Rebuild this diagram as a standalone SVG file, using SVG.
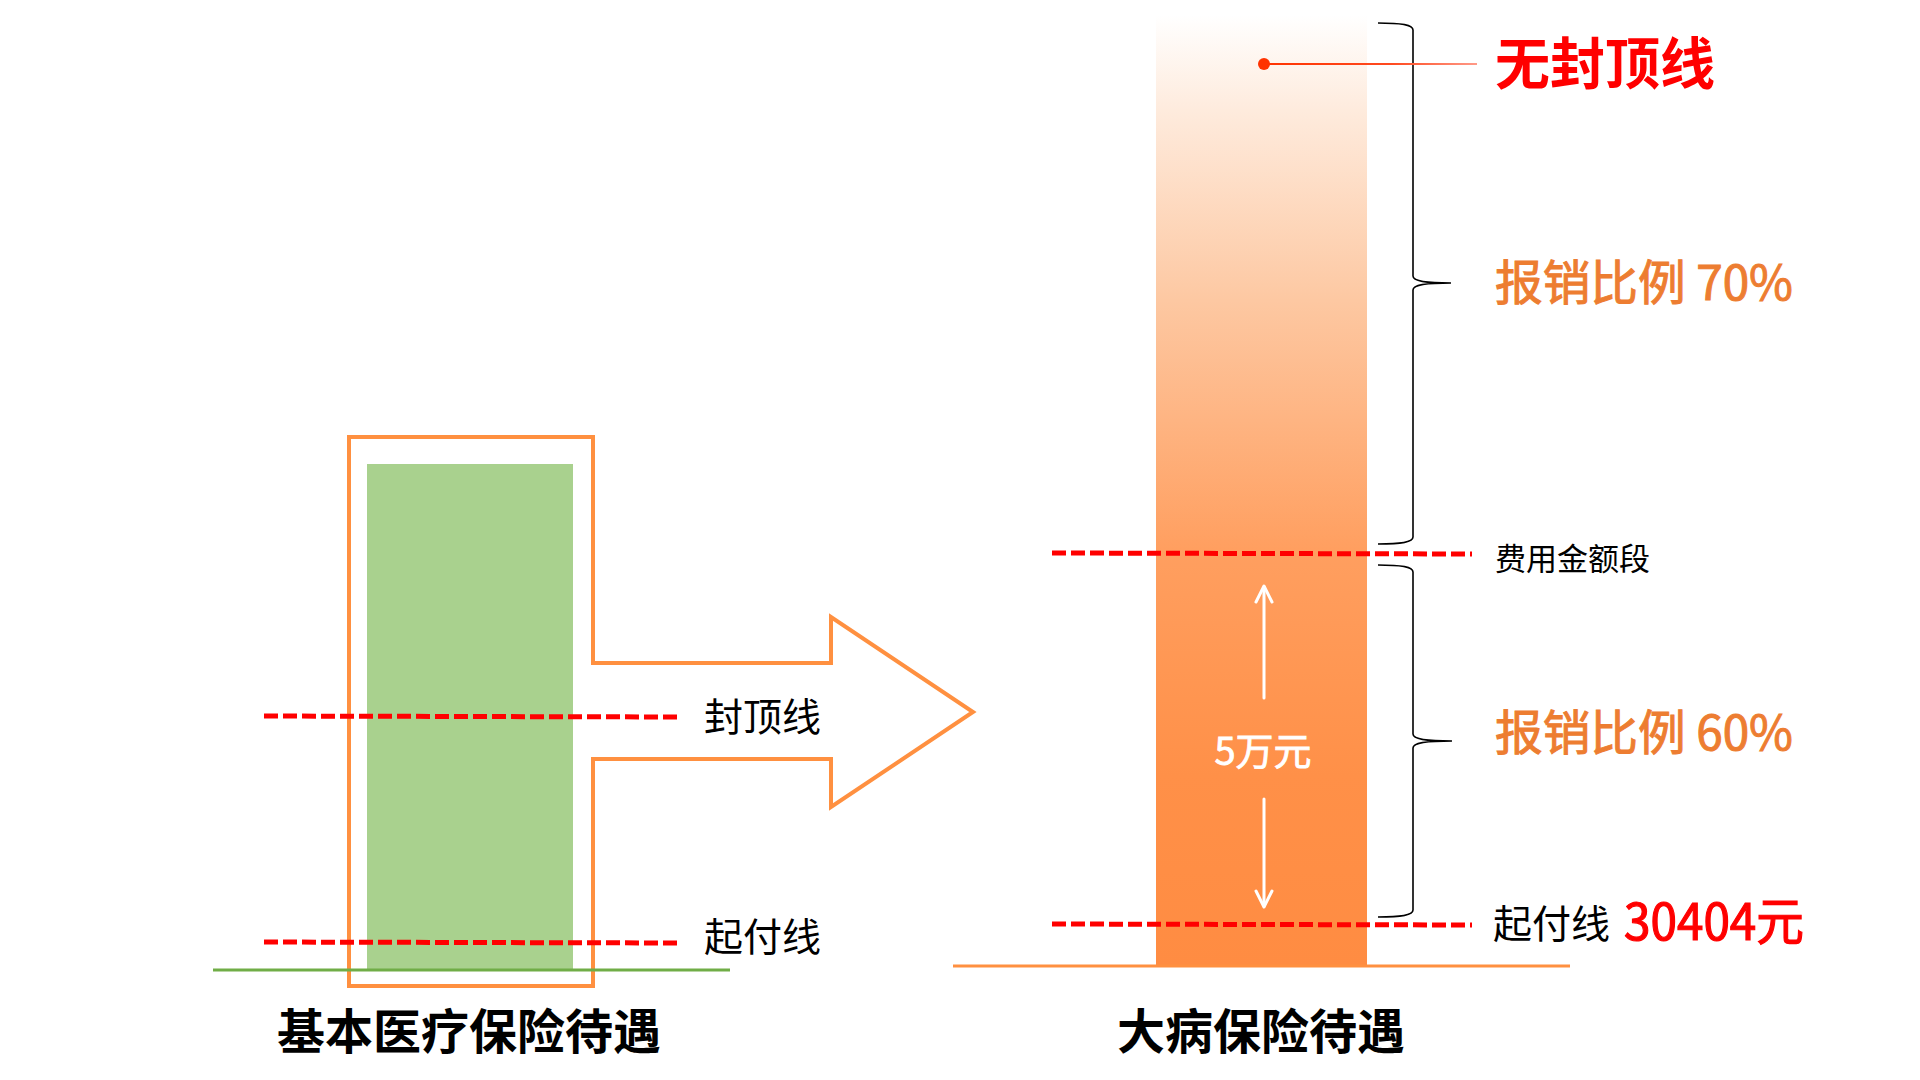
<svg xmlns="http://www.w3.org/2000/svg" width="1920" height="1080" viewBox="0 0 1920 1080">
  <style>
    text { font-family: "Noto Sans CJK SC", "Liberation Sans", sans-serif; }
    .dash { stroke: #FF0000; stroke-width: 5; stroke-dasharray: 14 5; fill: none; }
    .lbl { fill: #000000; font-size: 39px; }
    .title { fill: #000000; font-size: 48px; font-weight: bold; text-anchor: middle; }
    .rate { fill: #ED7D31; stroke: #ED7D31; stroke-width: 1; font-size: 48px; }
    .brace { fill: none; stroke: #000000; stroke-width: 1.6; }
    .white { stroke: #FFFFFF; stroke-width: 3; fill: none; stroke-linecap: round; stroke-linejoin: round; }
  </style>
  <defs>
    <linearGradient id="barGrad" x1="0" y1="15" x2="0" y2="966" gradientUnits="userSpaceOnUse">
      <stop offset="0" stop-color="#FFFFFF"/>
      <stop offset="0.1" stop-color="#FEEBDD"/>
      <stop offset="0.3" stop-color="#FDC8A2"/>
      <stop offset="0.56" stop-color="#FF9F60"/>
      <stop offset="0.8" stop-color="#FF9048"/>
      <stop offset="1" stop-color="#FF8C42"/>
    </linearGradient>
    <linearGradient id="leadGrad" x1="1264" y1="0" x2="1477" y2="0" gradientUnits="userSpaceOnUse">
      <stop offset="0" stop-color="#FF3300"/>
      <stop offset="0.6" stop-color="#FF4A20"/>
      <stop offset="1" stop-color="#FF9A88"/>
    </linearGradient>
  </defs>
  <rect width="1920" height="1080" fill="#FFFFFF"/>

  <!-- Left: basic medical insurance -->
  <g id="basic-bar">
    <rect x="367" y="464" width="206" height="506" fill="#A9D18E"/>
  </g>
  <g id="basic-arrow">
    <path d="M349,437 L593,437 L593,663 L831,663 L831,617 L973,712 L831,807 L831,759 L593,759 L593,986 L349,986 Z" fill="none" stroke="#FF9040" stroke-width="4"/>
  </g>
  <g id="basic-baseline">
    <line x1="213" y1="970" x2="730" y2="970" stroke="#70AD47" stroke-width="3"/>
  </g>
  <g id="basic-cap">
    <line class="dash" x1="264" y1="716" x2="680" y2="717"/>
    <text class="lbl" x="704" y="731">封顶线</text>
  </g>
  <g id="basic-deductible">
    <line class="dash" x1="264" y1="942" x2="680" y2="943"/>
    <text class="lbl" x="704" y="951">起付线</text>
  </g>
  <g id="basic-title">
    <text class="title" x="469" y="1049">基本医疗保险待遇</text>
  </g>

  <!-- Right: critical illness insurance -->
  <g id="serious-bar">
    <rect x="1156" y="15" width="211" height="951" fill="url(#barGrad)"/>
  </g>
  <g id="serious-baseline">
    <line x1="953" y1="966" x2="1570" y2="966" stroke="#FF9040" stroke-width="3"/>
  </g>
  <g id="segment-line">
    <line class="dash" x1="1052" y1="553" x2="1472" y2="554"/>
    <text x="1495" y="570" fill="#000000" font-size="31">费用金额段</text>
  </g>
  <g id="deductible-line">
    <line class="dash" x1="1052" y1="924" x2="1472" y2="925"/>
    <text class="lbl" x="1493" y="938">起付线</text>
    <text x="1624" y="940" fill="#FF0000" stroke="#FF0000" stroke-width="1.2" font-size="51" textLength="180" lengthAdjust="spacingAndGlyphs">30404元</text>
  </g>
  <g id="no-cap">
    <circle cx="1264" cy="64" r="6" fill="#FF3300"/>
    <text x="1495" y="84" fill="#FF0000" font-size="56" font-weight="bold" textLength="220" lengthAdjust="spacingAndGlyphs">无封顶线</text>
  </g>
  <g id="upper-brace">
    <path class="brace" d="M1378,23 C1402,23 1413,25 1413,30 L1413,276 C1413,281 1425,283 1451,283 C1425,283 1413,285 1413,290 L1413,537 C1413,542 1402,544 1378,544"/>
    <text class="rate" x="1495" y="300" textLength="298" lengthAdjust="spacingAndGlyphs">报销比例 70%</text>
  </g>
  <g id="lower-brace">
    <path class="brace" d="M1378,565 C1402,565 1413,567 1413,572 L1413,734 C1413,739 1425,741 1452,741 C1425,741 1413,743 1413,748 L1413,910 C1413,915 1402,917 1378,917"/>
    <text class="rate" x="1495" y="750" textLength="298" lengthAdjust="spacingAndGlyphs">报销比例 60%</text>
  </g>
  <g id="amount-label">
    <text x="1263" y="765" fill="#FFFFFF" stroke="#FFFFFF" stroke-width="0.8" font-size="38" text-anchor="middle">5万元</text>
  </g>
  <g id="serious-title">
    <text class="title" x="1261" y="1049">大病保险待遇</text>
  </g>

  <g id="connectors">
    <line x1="1264" y1="64" x2="1477" y2="64" stroke="url(#leadGrad)" stroke-width="2"/>
    <line class="white" x1="1264" y1="698" x2="1264" y2="587"/>
    <polyline class="white" points="1256,602 1264,586 1272,602"/>
    <line class="white" x1="1264" y1="799" x2="1264" y2="906"/>
    <polyline class="white" points="1256,891 1264,907 1272,891"/>
  </g>
</svg>
